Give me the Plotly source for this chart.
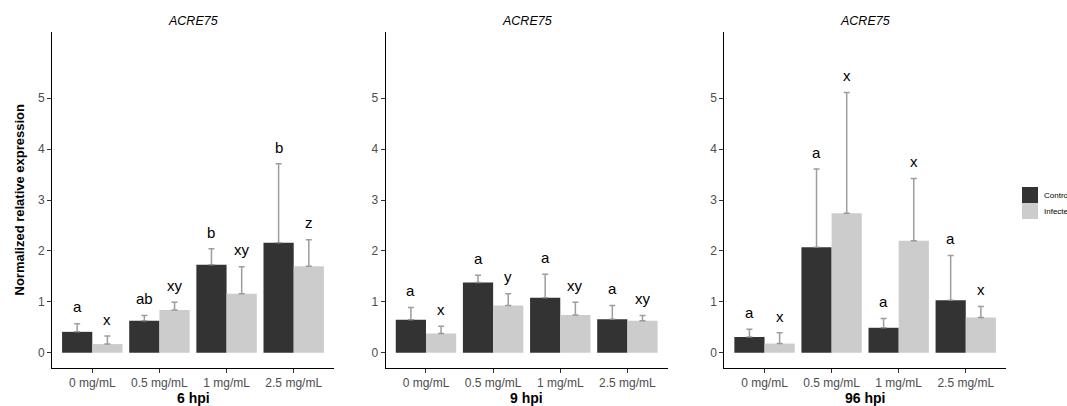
import plotly.graph_objects as go

W, H = 1067, 406

doses = ["0 mg/mL", "0.5 mg/mL", "1 mg/mL", "2.5 mg/mL"]
panel_titles = ["6 hpi", "9 hpi", "96 hpi"]
gene = "ACRE75"

# 6 hpi
ctrl_6 = [0.41, 0.63, 1.73, 2.16]
ctrl_6_sd = [0.16, 0.10, 0.31, 1.55]
inf_6 = [0.17, 0.84, 1.16, 1.70]
inf_6_sd = [0.16, 0.15, 0.53, 0.52]
ctrl_6_lab = ["a", "ab", "b", "b"]
inf_6_lab = ["x", "xy", "xy", "z"]

# 9 hpi
ctrl_9 = [0.65, 1.38, 1.08, 0.66]
ctrl_9_sd = [0.24, 0.14, 0.46, 0.27]
inf_9 = [0.38, 0.93, 0.74, 0.63]
inf_9_sd = [0.14, 0.23, 0.25, 0.10]
ctrl_9_lab = ["a", "a", "a", "a"]
inf_9_lab = ["x", "y", "xy", "xy"]

# 96 hpi
ctrl_96 = [0.31, 2.07, 0.49, 1.03]
ctrl_96_sd = [0.15, 1.54, 0.18, 0.88]
inf_96 = [0.18, 2.74, 2.20, 0.69]
inf_96_sd = [0.21, 2.37, 1.22, 0.22]
ctrl_96_lab = ["a", "a", "a", "a"]
inf_96_lab = ["x", "x", "x", "x"]

panels = [
    (ctrl_6, ctrl_6_sd, inf_6, inf_6_sd, ctrl_6_lab, inf_6_lab),
    (ctrl_9, ctrl_9_sd, inf_9, inf_9_sd, ctrl_9_lab, inf_9_lab),
    (ctrl_96, ctrl_96_sd, inf_96, inf_96_sd, ctrl_96_lab, inf_96_lab),
]

DARK = "#333333"
LIGHT = "#cccccc"
ERR = "rgba(140,140,140,0.85)"
FONT = "Liberation Sans, Arial, sans-serif"


def px(x):
    return x / W


def py(y):
    return 1 - y / H


x_domains = [(52, 334), (385.7, 667.7), (724.3, 1006)]
y_dom = (py(368), py(32))

fig = go.Figure()
annotations = []
xpos = list(range(len(doses)))
off = 0.225

for k, (c, csd, inf, isd, clab, ilab) in enumerate(panels):
    ax = "" if k == 0 else str(k + 1)
    xa, ya = "x" + ax, "y" + ax
    for vals, sd, col, name in [(c, csd, DARK, "Control"), (inf, isd, LIGHT, "Infected")]:
        fig.add_trace(go.Bar(
            x=xpos, y=vals, name=name, marker=dict(color=col, line=dict(width=0)),
            error_y=dict(type="data", array=sd, arrayminus=[0] * len(sd), symmetric=False,
                         color=ERR, thickness=1.5, width=3),
            xaxis=xa, yaxis=ya, showlegend=False,
        ))
    for i in xpos:
        for vals, sd, lab, dx in [(c, csd, clab, -off), (inf, isd, ilab, off)]:
            annotations.append(dict(
                x=i + dx, y=vals[i] + sd[i] + 0.33, xref=xa, yref=ya, text=lab[i],
                showarrow=False, font=dict(family=FONT, size=15, color="black"),
                xanchor="center", yanchor="middle"))
    x0, x1 = x_domains[k]
    fig.layout["xaxis" + ax] = dict(
        domain=[px(x0), px(x1)], anchor=ya, range=[-0.6, 3.6],
        tickvals=xpos, ticktext=doses, ticks="outside", ticklen=4, tickcolor="#333333",
        showline=True, linecolor="black", linewidth=1, showgrid=False, zeroline=False,
        tickfont=dict(family=FONT, size=12, color="#4d4d4d"),
    )
    fig.layout["yaxis" + ax] = dict(
        domain=list(y_dom), anchor=xa, range=[-0.3, 6.3],
        tickvals=[0, 1, 2, 3, 4, 5], ticks="outside", ticklen=4, tickcolor="#333333",
        showline=True, linecolor="black", linewidth=1, showgrid=False, zeroline=False,
        tickfont=dict(family=FONT, size=12, color="#4d4d4d"),
    )
    # facet title
    annotations.append(dict(
        x=px((x0 + x1) / 2), y=py(20.7), xref="paper", yref="paper",
        text="<i>" + gene + "</i>", showarrow=False,
        font=dict(family=FONT, size=12.5, color="black"), xanchor="center", yanchor="middle"))
    # x axis title
    annotations.append(dict(
        x=px((x0 + x1) / 2), y=py(397.5), xref="paper", yref="paper",
        text="<b>" + panel_titles[k] + "</b>", showarrow=False,
        font=dict(family=FONT, size=14, color="black"), xanchor="center", yanchor="middle"))

# y axis title
annotations.append(dict(
    x=px(18.5), y=py(200), xref="paper", yref="paper",
    text="<b>Normalized relative expression</b>", showarrow=False, textangle=-90,
    font=dict(family=FONT, size=13, color="black"), xanchor="center", yanchor="middle"))

# legend (manual, clipped at right edge like the reference)
shapes = []
for j, (col, name) in enumerate([(DARK, "Control"), (LIGHT, "Infected")]):
    top = 187 + j * 16
    shapes.append(dict(type="rect", xref="paper", yref="paper",
                       x0=px(1022), x1=px(1038), y0=py(top + 16), y1=py(top),
                       fillcolor=col, line=dict(width=0)))
    annotations.append(dict(x=px(1042), y=py(top + 8), xref="paper", yref="paper",
                            text=name, showarrow=False, xanchor="left", yanchor="middle",
                            font=dict(family=FONT, size=8, color="black")))

fig.update_layout(
    width=W, height=H, margin=dict(l=0, r=0, t=0, b=0, autoexpand=False),
    paper_bgcolor="white", plot_bgcolor="white",
    barmode="group", bargap=0.1, bargroupgap=0,
    annotations=annotations, shapes=shapes, showlegend=False,
)

fig.write_html("out.html", config={"displayModeBar": False},
               post_script="document.body.style.margin='0';document.body.style.overflow='hidden';")
